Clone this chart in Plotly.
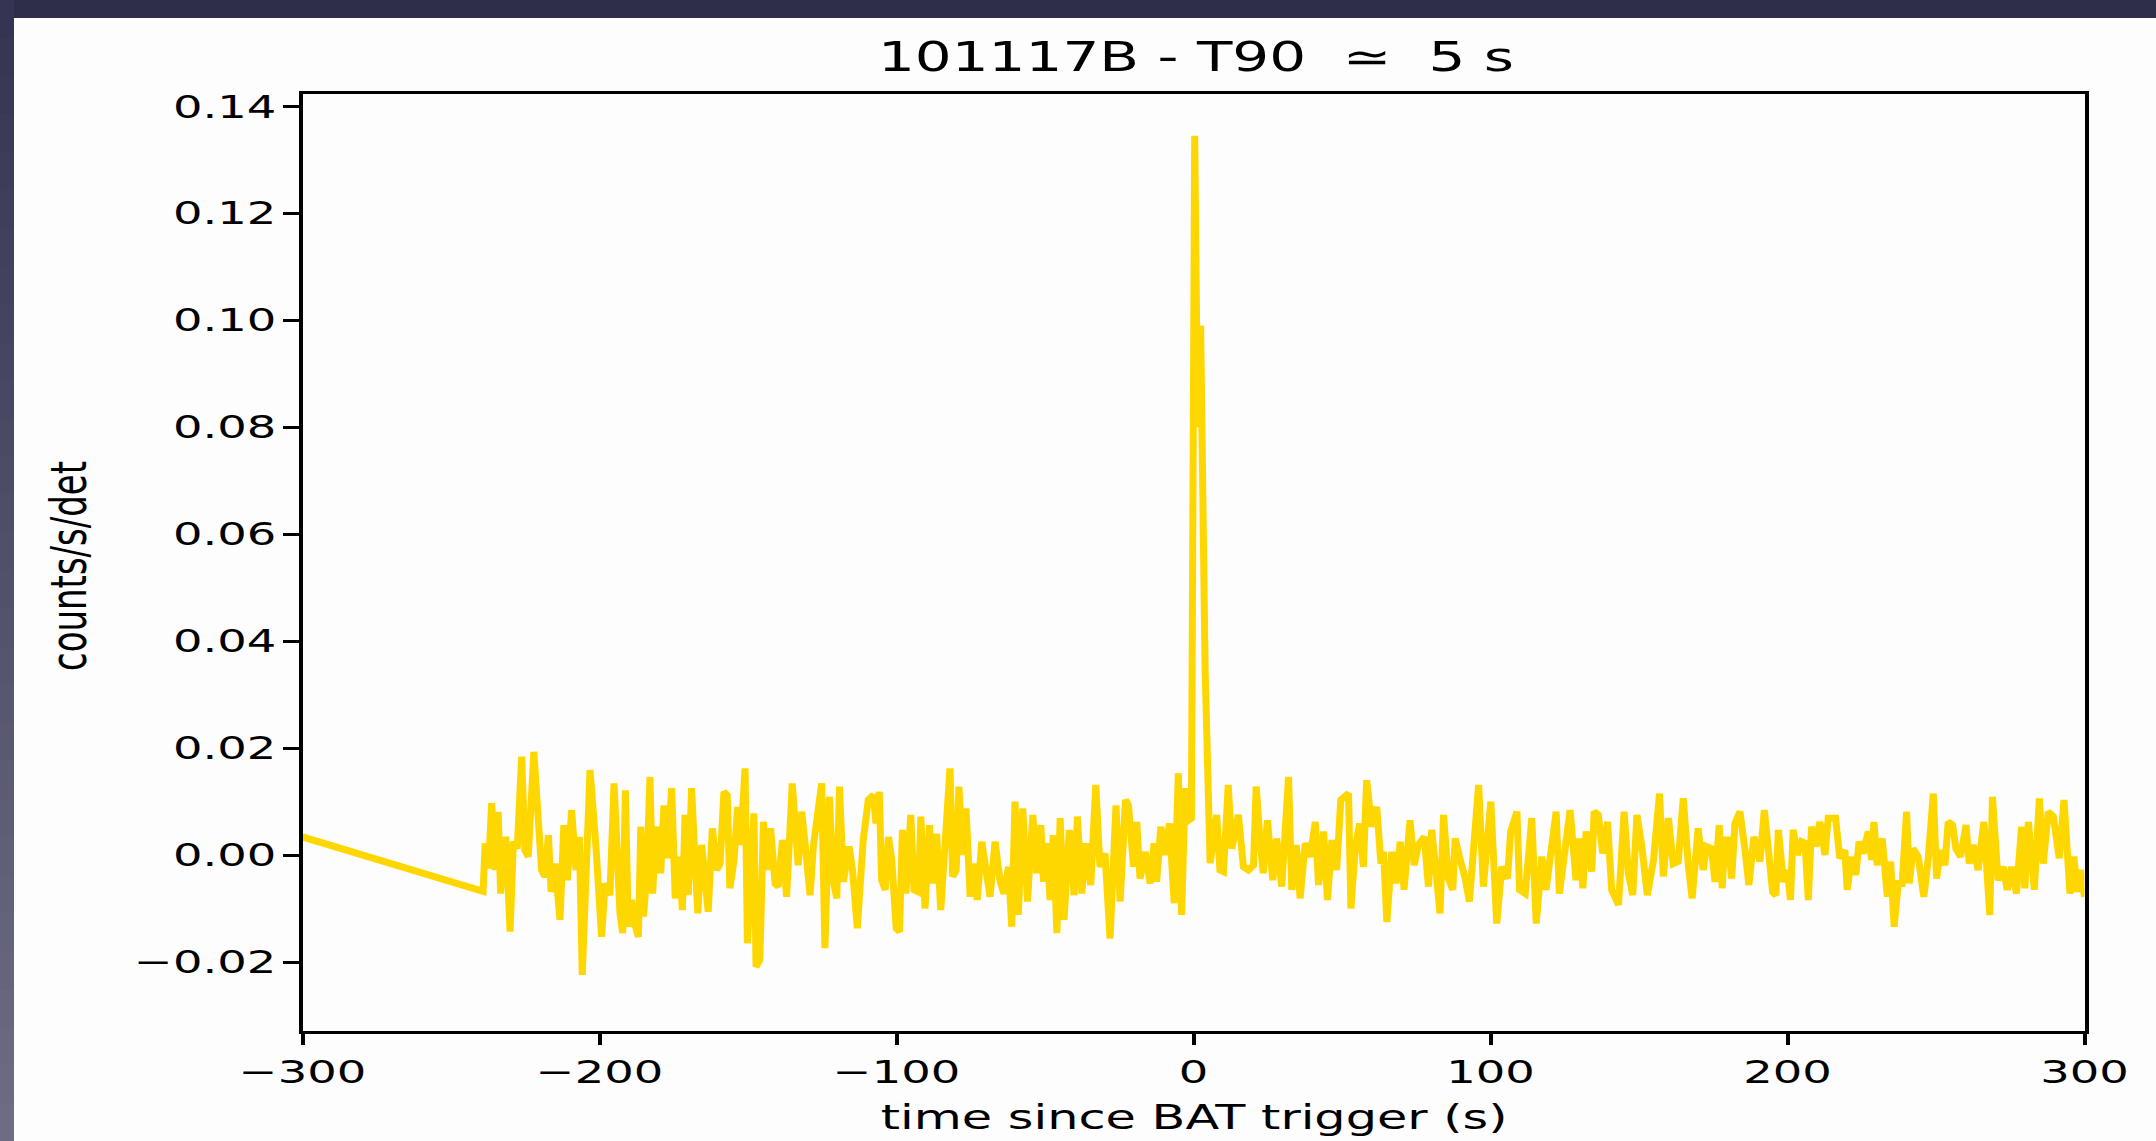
import plotly.graph_objects as go

# Swift/BAT light curve of GRB 101117B (counts/s/det vs time since trigger)
time_s = [
    -300.0, -239.2,
    -238.5, -237.4, -236.3, -235.2, -234.1, -233.3, -232.4, -231.5, -230.1, -229.0,
    -227.7, -226.2, -225.1, -224.0, -222.1, -220.6, -219.5, -218.4, -217.2, -216.3,
    -215.0, -213.3, -212.0, -210.8, -209.4, -207.9, -206.8, -205.8, -203.2, -201.2,
    -199.3, -198.1, -196.5, -195.1, -194.0, -193.1, -192.2, -191.3, -190.3, -189.2,
    -188.0, -186.9, -186.1, -185.2, -184.1, -183.0, -182.1, -181.0, -179.4, -178.3,
    -177.2, -175.7, -174.5, -173.1, -172.1, -171.2, -170.1, -169.0, -167.8, -166.9,
    -165.6, -164.5, -163.4, -162.0, -160.5, -159.4, -158.1, -157.0, -156.1, -154.7,
    -153.5, -152.5, -151.0, -150.2, -148.8, -148.0, -147.3, -146.0, -144.8, -143.5,
    -142.4, -140.9, -139.8, -138.4, -137.0, -135.1, -133.1, -131.9, -130.8, -129.1,
    -128.0, -125.2, -124.1, -122.6, -121.3, -120.1, -119.2, -117.9, -116.0, -114.8,
    -113.2, -111.2, -109.5,
    -107.8, -106.9, -105.8, -105.0, -103.8, -102.7, -101.6, -100.1, -99.0, -98.0,
    -96.8, -95.2, -94.1, -92.6, -91.8, -90.4, -88.9, -87.8, -86.5, -85.1,
    -83.6, -82.0, -81.1, -79.9, -79.0, -77.7, -76.6, -75.2, -74.1, -72.8,
    -71.3, -69.8, -68.5, -66.8, -65.1, -63.8, -62.3, -61.2, -60.1, -59.0,
    -57.5, -55.9, -54.1, -52.8, -51.4, -50.5, -49.4, -48.3, -47.2, -46.0,
    -44.9, -43.6, -41.8, -40.2, -39.1, -37.6, -36.2, -34.6, -32.9, -31.5,
    -29.8, -28.1, -26.1, -24.7, -22.9, -21.9, -20.2, -19.1, -18.0, -16.3,
    -14.6, -13.3, -12.4, -11.0, -9.6, -8.1, -6.5, -5.1, -4.0, -2.8,
    -1.7, -0.7, 0.4, 1.4, 2.4, 3.9, 5.6,
    7.8, 8.9, 10.1, 11.7, 12.9, 14.0, 15.1, 16.8, 18.5, 20.2,
    21.1, 22.4, 23.5, 24.9,
    26.7, 28.0, 29.7, 32.0, 33.1, 34.6, 35.9, 37.6, 39.3, 41.0,
    42.1, 43.8, 45.1, 46.6, 48.2, 49.6, 52.2, 53.0, 54.4, 55.9,
    57.2, 58.3, 60.0, 61.7, 63.1, 64.0, 65.1, 66.8, 68.2, 69.6,
    70.9, 72.9, 74.3, 75.7, 77.7, 79.1, 80.2, 81.6, 83.0, 84.2,
    85.8, 87.3, 88.1, 89.8, 91.5, 92.9, 94.3, 96.0, 97.6, 99.0,
    100.1, 102.1, 103.8, 105.7, 106.8, 108.9, 109.8, 111.7, 113.9, 115.4,
    117.3, 118.7, 120.3, 122.1, 123.2, 125.1, 126.8, 128.8, 129.9, 131.1,
    132.2, 134.1, 134.9, 136.3, 137.8, 139.4, 140.8, 143.1, 145.0, 146.4,
    147.9, 149.3, 150.9, 152.8, 154.9, 156.9, 158.2, 159.9,
    161.5, 163.2, 164.9, 166.6, 167.9, 169.9, 171.6, 172.7, 174.4, 175.6,
    177.0, 178.0, 178.9, 180.0, 181.2, 182.3, 184.0, 185.7, 187.0, 188.7,
    190.7, 192.2, 193.5, 195.0, 196.1, 196.9, 198.6, 199.9, 201.0, 201.9,
    203.3, 204.7, 205.9, 207.0, 208.1, 209.6, 210.9, 212.6, 213.7, 216.2,
    217.6, 219.3, 220.1, 221.6, 223.0, 224.1, 225.5, 227.2, 228.3, 229.1,
    230.2, 231.9, 233.6, 234.7, 235.9, 237.3, 238.6, 240.1, 241.0, 242.3,
    244.0, 245.9, 247.4, 249.1, 250.2, 251.5, 253.0, 254.1, 255.6, 256.7,
    258.3, 260.1, 261.2, 262.5, 264.2, 266.1, 268.1, 269.0, 270.9, 272.6,
    274.0, 275.4, 277.1, 278.8, 279.9, 281.1, 283.1, 284.8, 286.1, 287.8,
    289.5, 291.5, 293.1, 295.1, 296.4, 297.6, 298.7, 300.0,
]

rate_mcts = [  # in units of 1e-3 counts/s/det
    3.4, -6.8,
    2.2, -2.5, 9.7, -2.8, 8.1, -7.2, 2.8, 2.8, -14.3, 2.5,
    1.2, 18.4, 0.9, -0.3, 19.3, 8.4, -2.8, -4.0, 3.7, -6.9,
    -1.6, -12.1, 5.6, -4.7, 8.4, -2.8, 3.4, -22.4, 15.9, 1.6,
    -15.3, -5.3, -7.5, 13.4, -4.0, -10.9, -14.6, 12.1, -13.4, -8.4,
    -13.1, -15.3, 5.3, -11.5, -4.0, 14.6, -7.2, 5.3, -3.4, 9.3,
    -0.6, 12.5, -8.1, -0.3, -10.3, 7.5, -7.5, 12.5, -1.2, -10.9,
    1.9, -6.5, -10.6, 5.0, -2.8, -1.6, 11.8, 11.2, -6.2, -0.9,
    9.0, 1.9, 16.2, -16.5, 4.0, 7.8, -20.9, -19.6, 6.2, -2.8,
    5.0, -5.3, -5.9, 2.8, -7.8, 13.4, -1.9, 8.1, 2.2, -7.5,
    1.6, 13.4, -17.4, 10.9, -4.7, -8.1, 12.8, -5.0, 1.6, -2.8,
    -13.7, 2.8, 10.3,
    11.2, 5.9, 11.8, -4.7, -6.5, 3.4, -0.9, -13.7, -14.3, 4.7,
    -7.2, 7.5, -6.5, -6.9, 7.2, -10.0, 5.6, -5.3, 4.0, -10.3,
    2.8, 16.2, -4.0, -2.8, 12.8, 0.0, 8.7, -7.8, -1.6, -8.4,
    2.5, -4.4, -7.8, 2.5, -5.0, -7.2, -2.2, -13.4, 10.0, -11.2,
    8.7, -8.7, 7.5, -3.4, 5.6, -5.0, 2.2, -8.4, 3.7, -14.6,
    6.9, -12.1, 4.7, -7.5, 7.2, -7.2, 2.2, -5.6, 13.1, -2.2,
    0.3, -15.6, 9.3, -8.7, 10.3, 9.3, -2.2, 6.2, -4.4, 0.6,
    -5.3, 2.2, -5.0, 5.3, 0.0, 5.9, -9.0, 15.3, -11.2, 12.5,
    6.5, 6.9, 134.5, 80.0, 99.0, 35.0, -1.5,
    7.5, -2.8, -3.1, 13.1, 1.2, 4.2, 7.5, -2.2, -2.8, -1.9,
    12.8, 2.8, -3.4, 6.5,
    -4.7, 3.1, -5.9, 14.6, -6.5, 1.9, -8.1, 2.2, -0.3, 6.2,
    -5.6, 4.4, -8.4, 2.8, -2.8, 10.3, 11.5, -10.0, 0.9, 5.9,
    -2.2, 14.0, 5.3, 9.0, -1.6, 0.6, -12.5, 0.6, -5.3, 2.5,
    -6.5, 6.5, -1.9, 1.9, 3.4, -5.9, 4.7, -2.8, -10.9, 7.5,
    -4.4, -6.5, 3.1, -0.9, -4.4, -8.7, 0.9, 13.1, -5.9, 5.6,
    10.0, -12.8, -2.2, -4.4, 4.4, 8.1, -6.5, -7.2, 6.9, -12.8,
    -0.3, -6.5, 1.6, 8.1, -7.2, 0.3, 8.4, -4.7, 3.1, -6.2,
    4.4, -3.1, 8.1, 7.5, 0.3, 6.2, -6.5, -9.3, 8.1, -3.4,
    -7.5, 7.5, 1.9, -7.5, -0.9, 11.5, -4.0, 6.9,
    -1.6, -1.2, 10.6, -1.9, -8.1, 5.0, -2.8, 1.6, 1.2, -5.0,
    5.6, -6.2, 2.8, 2.8, -4.4, 5.9, 8.1, 0.9, -5.6, 3.4,
    -1.2, 8.4, 0.0, -6.9, -7.5, 4.7, -5.0, -2.8, -8.4, 4.7,
    0.0, 2.5, 2.2, -8.4, 5.3, 1.6, 6.2, 0.0, 6.9, 6.9,
    -0.6, 0.9, -6.5, -0.3, -3.7, 2.5, 0.3, 4.4, -0.9, 6.2,
    -1.9, 3.1, -7.8, -1.2, -13.4, -5.3, -5.3, 8.1, -5.3, 1.2,
    -0.3, -7.8, -0.6, 11.5, -4.4, 0.9, -1.9, 6.2, 5.6, 1.2,
    -0.3, 5.6, -1.6, 1.9, -2.8, 6.2, -11.2, 10.9, -4.7, -2.2,
    -6.5, -2.2, -7.2, 5.3, -6.2, 6.2, -6.5, 10.6, -1.6, 8.1,
    7.2, -0.6, 10.3, -7.2, -0.3, -6.9, -2.8, -7.8,
]
rate = [v / 1000.0 for v in rate_mcts]

x_ticks = [-300, -200, -100, 0, 100, 200, 300]
x_tick_text = ["\u2212300", "\u2212200", "\u2212100", "0", "100", "200", "300"]
y_ticks = [-0.02, 0.0, 0.02, 0.04, 0.06, 0.08, 0.10, 0.12, 0.14]
y_tick_text = ["\u22120.02", "0.00", "0.02", "0.04", "0.06", "0.08", "0.10", "0.12", "0.14"]

title_text = "101117B - T90\u00a0\u00a0\u2243\u00a0\u00a05 s"
x_label = "time since BAT trigger (s)"
y_label = "counts/s/det"

W, H = 2156, 1141
FONT = "DejaVu Sans"

fig = go.Figure()
fig.add_trace(go.Scatter(
    x=time_s, y=rate, mode="lines",
    line=dict(color="#FFD700", width=7),
    hoverinfo="skip", showlegend=False,
))

# dark slide border: flat strip on top, gradient strip down the left edge
shapes = [dict(type="rect", xref="paper", yref="paper", x0=0, x1=1,
               y0=1 - 18 / H, y1=1, line=dict(width=0), fillcolor="#2e2e4b",
               layer="below")]
top_rgb = (0x34, 0x34, 0x52)
bot_rgb = (0x6e, 0x6d, 0x84)
n_steps = 30
for i in range(n_steps):
    f = (i + 0.5) / n_steps
    c = tuple(round(a + (b - a) * f) for a, b in zip(top_rgb, bot_rgb))
    y_hi = 1 - i / n_steps
    y_lo = 1 - (i + 1) / n_steps
    shapes.append(dict(type="rect", xref="paper", yref="paper",
                       x0=0, x1=14 / W, y0=y_lo - 0.001, y1=y_hi,
                       line=dict(width=0),
                       fillcolor="rgb(%d,%d,%d)" % c, layer="below"))

x_dom = [302.5 / W, 2084.5 / W]
y_dom = [1 - 1031 / H, 1 - 93.5 / H]

fig.update_layout(
    template="none",
    width=W, height=H, autosize=False,
    margin=dict(l=0, r=0, t=0, b=0, pad=0, autoexpand=False),
    paper_bgcolor="#fdfdfd", plot_bgcolor="#fdfdfd",
    font=dict(family=FONT, color="black", size=32),
    shapes=shapes,
    title=dict(text=title_text, x=1196 / W, xanchor="center",
               y=1 - 57 / H, yanchor="middle", automargin=False,
               font=dict(family=FONT, size=40, color="black")),
    xaxis=dict(domain=x_dom, range=[-300, 300], tickvals=x_ticks,
               ticktext=x_tick_text, showgrid=False, zeroline=False,
               automargin=False,
               showline=True, mirror=True, linecolor="black", linewidth=2.6,
               ticks="outside", ticklen=11, tickwidth=3.7, tickcolor="black",
               tickfont=dict(family=FONT, size=32, color="black")),
    yaxis=dict(domain=y_dom, range=[-0.0329, 0.1424], tickvals=y_ticks,
               ticktext=y_tick_text, showgrid=False, zeroline=False,
               automargin=False,
               showline=True, mirror=True, linecolor="black", linewidth=3.7,
               ticks="outside", ticklen=16, tickwidth=2.6, tickcolor="black",
               tickfont=dict(family=FONT, size=32, color="black")),
    annotations=[
        dict(text=x_label, xref="x domain", yref="paper", x=0.5,
             y=1 - 1095 / H, xanchor="center", yanchor="top",
             showarrow=False, font=dict(family=FONT, size=34, color="black")),
        dict(text=y_label, xref="paper", yref="paper", x=69 / W,
             y=1 - 566 / H, xanchor="center", yanchor="middle",
             textangle=-90, showarrow=False,
             font=dict(family=FONT, size=34, color="black")),
    ],
)

# page without body margin; lettering widened horizontally (wide-aspect typography)
stretch_js = """
document.documentElement.style.margin = '0';
document.body.style.margin = '0';
document.body.style.padding = '0';
document.body.style.overflow = 'hidden';
var gd = document.getElementById('{plot_id}');
var S = 1.45;
function widenRun(el) {
  var L = el.getComputedTextLength();
  if (L > 0) {
    el.setAttribute('lengthAdjust', 'spacingAndGlyphs');
    el.setAttribute('textLength', (L * S).toFixed(2));
  }
}
function widenRotated(el) {
  var b = el.getBBox();
  var t = el.getAttribute('transform') || '';
  var cy = b.y + b.height / 2;
  el.setAttribute('transform', t + ' translate(0,' + cy + ') scale(1,' + S + ') translate(0,' + (-cy) + ')');
}
gd.querySelectorAll('.xtick text, .ytick text, text.gtitle').forEach(widenRun);
gd.querySelectorAll('g.annotation').forEach(function (g) {
  var tg = g.querySelector('.annotation-text-g');
  var rot = tg && (tg.getAttribute('transform') || '').indexOf('rotate(-90') >= 0;
  g.querySelectorAll('text.annotation-text').forEach(function (el) {
    if (rot) { widenRotated(el); } else { widenRun(el); }
  });
});
"""

fig.write_html("out.html", config={"displayModeBar": False}, post_script=stretch_js)
